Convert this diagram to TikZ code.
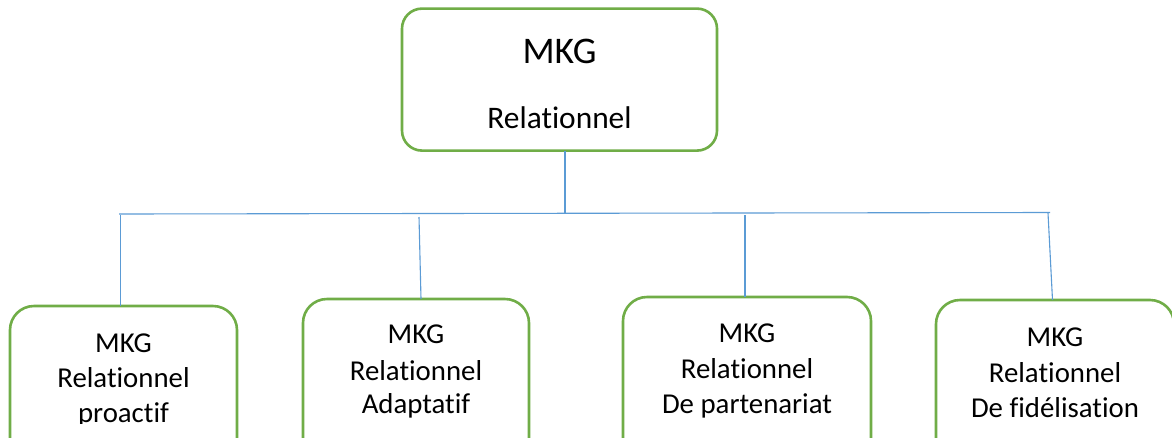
\documentclass[tikz,border=0pt]{standalone}
\usepackage{fontspec}
\setmainfont[Ligatures=NoCommon]{Carlito}
\definecolor{boxgreen}{HTML}{70AD47}
\definecolor{linkblue}{HTML}{5B9BD5}

\begin{document}
\begin{tikzpicture}[x=1pt,y=-1pt,
  box/.style={draw=boxgreen, line width=2.6pt, fill=white, inner sep=0pt, outer sep=0pt},
  link/.style={draw=linkblue, line width=1.1pt},
  titletext/.style={font=\fontsize{37.6}{42}\selectfont, anchor=base, inner sep=0pt},
  bigtext/.style={font=\fontsize{31.4}{36}\selectfont, anchor=base, inner sep=0pt},
  smalltext/.style={font=\fontsize{28.8}{34}\selectfont, anchor=base, inner sep=0pt}]
\clip (0,0) rectangle (1172,437);
\fill[white] (0,0) rectangle (1172,437);

% root box
\node[box, rounded corners=20pt, minimum width=315pt, minimum height=142pt] (top) at (559.5,79.6) {};
\node[titletext] (topa) at (559.5,63) {MKG};
\node[bigtext] (topb) at (559.5,128) {Relationnel};

% child boxes (running past the lower edge)
\node[box, rounded corners=24pt, minimum width=227pt, minimum height=174pt] (b1) at (123.5,393) {};
\node[box, rounded corners=24pt, minimum width=226pt, minimum height=181pt] (b2) at (416,389.5) {};
\node[box, rounded corners=24pt, minimum width=248pt, minimum height=183pt] (b3) at (747,388.5) {};
\node[box, rounded corners=24pt, minimum width=238pt, minimum height=180pt] (b4) at (1055,390) {};

% child labels
\node[smalltext] (b1a) at (123.5,352) {MKG};
\node[smalltext] (b1b) at (123.5,387) {Relationnel};
\begin{scope}
  \clip (0,0) rectangle (1172,423);
  \node[smalltext] (b1c) at (123.5,422) {proactif};
\end{scope}

\node[smalltext] (b2a) at (416,343) {MKG};
\node[smalltext] (b2b) at (416,380) {Relationnel};
\node[smalltext] (b2c) at (416,413) {Adaptatif};

\node[smalltext] (b3a) at (747,342) {MKG};
\node[smalltext] (b3b) at (747,378) {Relationnel};
\node[smalltext] (b3c) at (747,413) {De partenariat};

\node[smalltext] (b4a) at (1055,346) {MKG};
\node[smalltext] (b4b) at (1055,382) {Relationnel};
\node[smalltext] (b4c) at (1055,417) {De fidélisation};

% connector tree
\coordinate (stem) at (565,213);
\coordinate (barl) at (119,214);
\coordinate (barr) at (1050,212.5);
\coordinate (j1) at (120.5,215);
\coordinate (j2) at (419,217);
\coordinate (j3) at (745,215);
\coordinate (j4) at (1048,213);

\draw[link] (stem |- top.south) -- (stem);
\draw[link] (barl) -- (barr);
\draw[link] (j1) -- ([xshift=-3pt]b1.north);
\draw[link] (j2) -- ([xshift=5pt]b2.north);
\draw[link] (j3) -- ([xshift=-2pt]b3.north);
\draw[link] (j4) -- ([xshift=-2.5pt]b4.north);
\end{tikzpicture}
\end{document}
